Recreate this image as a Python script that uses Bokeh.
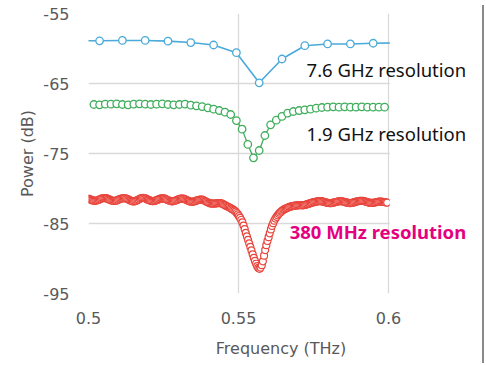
import numpy as np
from bokeh.plotting import figure
from bokeh.layouts import row
from bokeh.models import ColumnDataSource, FixedTicker, Label, BoxAnnotation, Div
from bokeh.embed import file_html
from bokeh.resources import INLINE

# ---------------- data ----------------
# 7.6 GHz resolution series (frequency grid start/step in THz)
blue_start = 0.4961
blue_step = 0.0076
blue_db = [-58.9, -58.9, -58.85, -58.85, -58.95, -59.15, -59.5, -60.6, -64.9,
           -61.5, -59.6, -59.35, -59.35, -59.25, -59.2]

# 1.9 GHz resolution series
green_start = 0.5018
green_step = 0.0019
green_db = [-68.00, -68.05, -67.95, -67.95, -67.90, -68.00, -68.05, -67.95, -67.90, -67.95,
            -68.00, -67.95, -67.90, -68.00, -68.05, -68.00, -67.95, -68.10, -68.19, -68.29,
            -68.48, -68.67, -68.86, -69.10, -69.43, -70.29, -71.52, -73.71, -75.62, -74.57,
            -72.43, -70.90, -70.24, -69.71, -69.24, -69.00, -68.86, -68.76, -68.67, -68.52,
            -68.43, -68.38, -68.33, -68.38, -68.33, -68.38, -68.38, -68.33, -68.38, -68.38,
            -68.38, -68.38]

# 380 MHz resolution series
red_start = 0.5
red_step = 0.00038
red_db = [
    -81.46, -81.53, -81.60, -81.67, -81.73, -81.76, -81.76, -81.73, -81.68, -81.61,
    -81.54, -81.47, -81.41, -81.37, -81.37, -81.38, -81.42,
    -81.49, -81.56, -81.63, -81.70, -81.75, -81.78, -81.78, -81.75, -81.70, -81.63, -81.56, -81.49, -81.43, -81.39, -81.38, -81.39, -81.43,
    -81.48, -81.57, -81.66, -81.74, -81.80, -81.84, -81.84, -81.80, -81.74, -81.66, -81.57, -81.48, -81.40, -81.36, -81.34, -81.36, -81.40,
    -81.52, -81.59, -81.66, -81.73, -81.78, -81.81, -81.81, -81.78, -81.73, -81.66, -81.59, -81.52, -81.46, -81.42, -81.41, -81.42, -81.46,
    -81.54, -81.61, -81.68, -81.75, -81.80, -81.83, -81.83, -81.80, -81.75, -81.68, -81.61, -81.54, -81.48, -81.44, -81.43, -81.44, -81.48,
    -81.57, -81.65, -81.72, -81.80, -81.85, -81.89, -81.90, -81.88, -81.84, -81.78, -81.72, -81.66, -81.61, -81.58, -81.58, -81.60, -81.65,
    -81.76, -81.85, -81.93, -82.01, -82.08, -82.13, -82.16, -82.17, -82.16, -82.14, -82.12, -82.09, -82.08, -82.08, -82.10, -82.15, -82.22,
    -82.33, -82.42, -82.50, -82.58, -82.66, -82.75, -82.85, -82.95, -83.05, -83.16,
    -83.30, -83.50, -83.70, -83.95, -84.20, -84.50, -84.85, -85.30, -85.80, -86.35, -86.85,
    -87.35, -87.85, -88.35, -88.85, -89.40, -89.90, -90.35, -90.75, -91.10, -91.35, -91.47,
    -91.30, -90.95, -90.40, -89.60, -88.80, -88.10, -87.50, -86.95, -86.40, -85.85, -85.35,
    -84.95, -84.60, -84.30, -84.05, -83.82, -83.62, -83.45, -83.30, -83.17, -83.05, -82.95,
    -82.87, -82.79, -82.72, -82.66, -82.60,
    -82.56, -82.52, -82.49, -82.46, -82.44, -82.42, -82.41, -82.38, -82.38, -82.39,
    -82.40, -82.38, -82.34, -82.29, -82.24, -82.18, -82.13, -82.08, -82.03, -81.98,
    -81.94, -81.90, -81.86, -81.83, -81.81, -81.80, -81.81, -81.84, -81.88, -81.93,
    -81.98, -82.02, -82.06, -82.08, -82.09, -82.08, -82.06, -82.02, -81.98, -81.93,
    -81.89, -81.85, -81.82, -81.81, -81.82, -81.85, -81.89, -81.94, -81.99, -82.03,
    -82.06, -82.08, -82.08, -82.06, -82.02, -81.97, -81.92, -81.87, -81.83, -81.79,
    -81.77, -81.76, -81.76, -81.78, -81.82, -81.87, -81.92, -81.97, -82.01, -82.04,
    -82.06, -82.06, -82.04, -82.01, -81.97, -81.93, -81.90, -81.88, -81.87, -81.88,
    -81.90, -81.93, -81.96, -81.99, -82.01,
]

x_min, x_max = 0.5, 0.6
x_ticks = [0.5, 0.55, 0.6]
x_tick_labels = ["0.5", "0.55", "0.6"]
y_ticks = [-95, -85, -75, -65, -55]
y_tick_labels = ["-95", "-85", "-75", "-65", "-55"]

labels = ["7.6 GHz resolution", "1.9 GHz resolution", "380 MHz resolution"]
label_x = 0.6259
label_y = [-63.0, -72.2, -86.2]

# ---------------- styles ----------------
BLUE = "#4aaad9"
GREEN = "#3fae5c"
RED = "#e8453c"
MAGENTA = "#e4007f"
GRID = "#d9d9d9"
AXIS_TEXT = "#595959"


def grid_x(start, step, vals):
    return [start + step * i for i in range(len(vals))]


blue_src = ColumnDataSource(dict(x=grid_x(blue_start, blue_step, blue_db), y=blue_db))
green_src = ColumnDataSource(dict(x=grid_x(green_start, green_step, green_db), y=green_db))
red_src = ColumnDataSource(dict(x=grid_x(red_start, red_step, red_db), y=red_db))

W, H = 477, 361
BL, BR, BT, BB = 88, 4, 13, 68
frame_w = W - BL - BR
# the frame is widened to the right so that the text labels fit; 0.5..0.6 spans 300 px
x_end = x_min + (x_max - x_min) * frame_w / 300.0

p = figure(width=W, height=H, x_range=(x_min, x_end), y_range=(-95, -55),
           output_backend="svg", toolbar_location=None,
           min_border_left=BL, min_border_right=BR, min_border_top=BT, min_border_bottom=BB)
p.outline_line_color = None
p.background_fill_color = "white"
p.border_fill_color = "white"

p.xaxis.ticker = FixedTicker(ticks=x_ticks)
p.yaxis.ticker = FixedTicker(ticks=y_ticks)
p.xaxis.major_label_overrides = {t: s for t, s in zip(x_ticks, x_tick_labels)}
p.yaxis.major_label_overrides = {t: s for t, s in zip(y_ticks, y_tick_labels)}

for ax in (p.xaxis, p.yaxis):
    ax.axis_line_color = None
    ax.major_tick_line_color = None
    ax.minor_tick_line_color = None
    ax.major_tick_out = 0
    ax.major_tick_in = 0
    ax.major_label_text_font = "DejaVu Sans"
    ax.major_label_text_font_size = "16px"
    ax.major_label_text_color = AXIS_TEXT
    ax.axis_label_text_font = "DejaVu Sans"
    ax.axis_label_text_font_size = "16px"
    ax.axis_label_text_font_style = "normal"
    ax.axis_label_text_color = AXIS_TEXT

p.xaxis.major_label_standoff = 18
p.yaxis.major_label_standoff = 19
p.xaxis.axis_label = "Frequency (THz)"
p.yaxis.axis_label = "Power (dB)"
p.xaxis.axis_label_standoff = 12
p.yaxis.axis_label_standoff = 3

p.xgrid.grid_line_color = GRID
p.ygrid.grid_line_color = GRID
p.xgrid.grid_line_width = 1.3
p.ygrid.grid_line_width = 1.3

# series
p.line("x", "y", source=blue_src, line_color=BLUE, line_width=1.6)
p.scatter("x", "y", source=blue_src, marker="circle", size=7.5, line_color=BLUE,
          fill_color="white", line_width=1.3)

p.line("x", "y", source=green_src, line_color=GREEN, line_width=1.3)
p.scatter("x", "y", source=green_src, marker="circle", size=7.5, line_color=GREEN,
          fill_color="white", line_width=1.3)

p.scatter("x", "y", source=red_src, marker="circle", size=7, line_color=RED,
          fill_color="white", line_width=1.2)

# white mask: the plot area ends at 0.6, the labels live to its right
p.add_layout(BoxAnnotation(left=x_max + 0.0004, fill_color="white", fill_alpha=1.0,
                           line_color=None, level="annotation"))

colors = ["#111111", "#111111", MAGENTA]
weights = ["normal", "normal", "bold"]
for txt, yv, c, w in zip(labels, label_y, colors, weights):
    p.add_layout(Label(x=label_x, y=yv, text=txt, text_align="right",
                       text_baseline="alphabetic", text_font="Noto Sans",
                       text_font_size="18.5px", text_color=c, text_font_style=w))

# chart border on the right-hand side
edge = Div(width=2, height=358, styles={"background-color": "#8a8a8a"})

layout = row(p, edge, spacing=0)
open("out.html", "w").write(file_html(layout, INLINE))
